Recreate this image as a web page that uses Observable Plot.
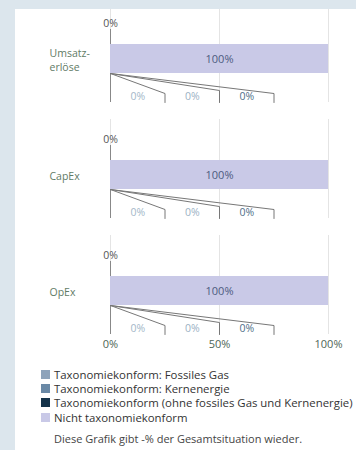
<!DOCTYPE html>
<html lang="de">
<head>
<meta charset="utf-8">
<script src="https://cdn.jsdelivr.net/npm/d3@7"></script>
<script src="https://cdn.jsdelivr.net/npm/@observablehq/plot@0.6"></script>
<style>
  html, body { margin: 0; padding: 0; }
  body { width: 356px; height: 450px; background: #dce6ed; font-family: "Open Sans", Lato, sans-serif; position: relative; overflow: hidden; }
  #panel { position: absolute; left: 15px; top: 9px; width: 341px; height: 441px; background: #fff; overflow: hidden; }
  #chart svg { display: block; margin-top: -7px; }
  #legend { position: absolute; left: 26px; top: 358px; font-size: 11.4px; color: #333; }
  .item { display: flex; align-items: center; height: 14.4px; white-space: nowrap; }
  .sw { width: 9px; height: 9px; margin-right: 4px; flex: none; }
  #note { position: absolute; left: 39px; top: 422px; font-size: 11px; color: #444; white-space: nowrap; }
</style>
</head>
<body>
<div id="panel">
  <div id="chart"></div>
  <div id="legend"></div>
  <div id="note">Diese Grafik gibt -% der Gesamtsituation wieder.</div>
</div>
<script>
// KPI rows and their display labels
const categories = ["Umsatzerlöse", "CapEx", "OpEx"];
const categoryLabels = ["Umsatz-\nerlöse", "CapEx", "OpEx"];

// Series shown in the stacked bars (legend order)
const seriesNames = [
  "Taxonomiekonform: Fossiles Gas",
  "Taxonomiekonform: Kernenergie",
  "Taxonomiekonform (ohne fossiles Gas und Kernenergie)",
  "Nicht taxonomiekonform"
];
const seriesColors = ["#8ea3ba", "#6a89a6", "#15334a", "#c9c9e7"];
const labelColors = ["#a3b7c8", "#9bb1c4", "#4f6e88", "#4d5b80"];

// Shares in percent per KPI
const fossilGas = [0, 0, 0];
const nuclear = [0, 0, 0];
const taxonomyOther = [0, 0, 0];
const nonTaxonomy = [100, 100, 100];
// Total taxonomy-aligned share, labelled above each bar
const taxonomyTotal = [0, 0, 0];

const xTicks = [0, 50, 100];

const seriesValues = [fossilGas, nuclear, taxonomyOther, nonTaxonomy];

// Long-format table for the stacked bars
const rows = [];
categories.forEach((cat, i) => {
  let offset = 0;
  seriesValues.forEach((vals, s) => {
    rows.push({cat, series: seriesNames[s], s, value: vals[i], start: offset, mid: offset + vals[i] / 2});
    offset += vals[i];
  });
});

// In-facet vertical layout (pixels from the facet top)
const barTop = 41, barBottom = 70;
const bendY = [90, 87, 90];
const leaderEnd = 99;
const slotEdges = [25, 50, 75];      // where each callout bracket drops
const slotCenters = [12.5, 37.5, 62.5];

const small = rows.filter(d => d.s < 3);
const big = rows.filter(d => d.s === 3);

// Callout leader lines for the small segments
const leaders = [];
small.forEach(d => {
  const id = d.cat + "|" + d.s;
  leaders.push({cat: d.cat, id, x: d.start, y: barBottom});
  leaders.push({cat: d.cat, id, x: slotEdges[d.s], y: bendY[d.s]});
  leaders.push({cat: d.cat, id, x: slotEdges[d.s], y: leaderEnd});
});

const totals = categories.map((cat, i) => ({cat, value: taxonomyTotal[i]}));

const chart = Plot.plot({
  width: 341,
  height: 352,
  marginTop: 0,
  marginBottom: 20,
  marginLeft: 95,
  marginRight: 28,
  style: {fontFamily: "'Open Sans', Lato, sans-serif", fontSize: "10.5px", background: "transparent"},
  facet: {marginTop: 0, marginBottom: 0, marginLeft: 0, marginRight: 0},
  fy: {domain: categories, axis: null, paddingInner: 0.15, paddingOuter: 0},
  x: {domain: [0, 100]},
  y: {domain: [0, 99], reverse: true, axis: null},
  color: {domain: seriesNames, range: seriesColors},
  marks: [
    Plot.gridX(xTicks, {stroke: "#e4e4e4", strokeOpacity: 1}),
    Plot.rectX(rows, {fy: "cat", x1: "start", x2: d => d.start + d.value, y1: barTop, y2: barBottom, fill: "series"}),
    Plot.text(big, {fy: "cat", x: "mid", y: (barTop + barBottom) / 2, text: d => d.value + "%", fill: labelColors[3], fontSize: 11}),
    // leader above the bar for the total share
    Plot.ruleX(totals, {fy: "cat", x: "value", y1: 26, y2: barTop, stroke: "#888"}),
    Plot.text(totals, {fy: "cat", x: "value", y: 20, text: d => d.value + "%", fill: "#555", fontSize: 10.5}),
    // leaders below the bar for the small segments
    Plot.ruleX(categories, {fy: d => d, x: 0, y1: barBottom, y2: leaderEnd, stroke: "#888"}),
    Plot.line(leaders, {fy: "cat", x: "x", y: "y", z: "id", stroke: "#777", strokeWidth: 1}),
    Plot.text(small, {fy: "cat", x: d => slotCenters[d.s], y: 93, text: d => d.value + "%", fill: d => labelColors[d.s], fontSize: 10.5, fontWeight: d => d.s === 2 ? "bold" : "normal"}),
    // KPI names
    Plot.text(categories, {fy: d => d, x: 0, y: 56, dx: -61, text: (d, i) => categoryLabels[i], textAnchor: "start", lineHeight: 1.35, fill: "#5f7b66", fontSize: 10.5}),
    Plot.axisX({ticks: xTicks, tickFormat: d => d + "%", tickSize: 0, tickPadding: 6, fill: "#4e6656", fontSize: 11})
  ]
});
document.getElementById("chart").append(chart);

// Legend
const legend = document.getElementById("legend");
seriesNames.forEach((name, i) => {
  const item = document.createElement("div");
  item.className = "item";
  const sw = document.createElement("span");
  sw.className = "sw";
  sw.style.background = seriesColors[i];
  const label = document.createElement("span");
  label.textContent = name;
  item.append(sw, label);
  legend.append(item);
});
</script>
</body>
</html>
